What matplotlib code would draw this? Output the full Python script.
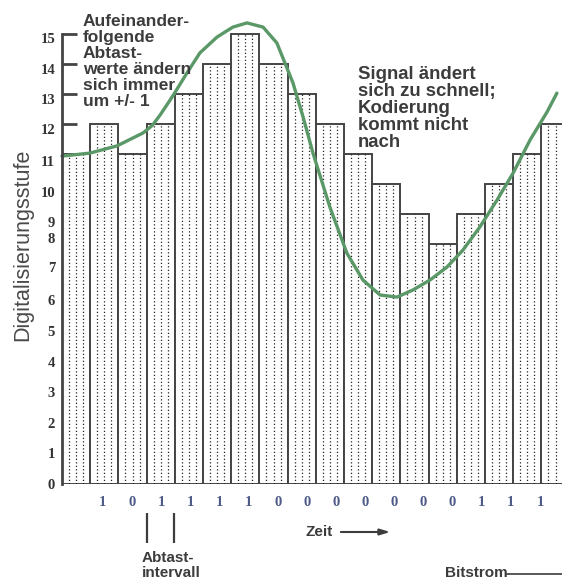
import numpy as np
import matplotlib
matplotlib.use("Agg")
import matplotlib.pyplot as plt

# quantisierte Abtastwerte (ein Balken pro Abtastintervall)
levels = [11, 12, 11, 12, 13, 14, 15, 14, 13, 12, 11, 10, 9, 8, 9, 10, 11, 12]

# analoges Signal (x in Abtastintervallen, y in Stufen)
curve_x = [0.0, 0.99, 1.95, 2.87, 3.2, 3.48, 3.94, 4.43, 4.89, 5.5, 6.06, 6.56, 7.13,
           7.62, 8.19, 8.55, 8.9, 9.5, 10.1, 10.67, 11.28, 11.88, 12.45, 13.05,
           13.65, 14.22, 14.82, 15.43, 16.0, 16.6, 17.2, 17.55]
curve_y = [10.93, 11.03, 11.27, 11.7, 11.95, 12.3, 12.95, 13.7, 14.37, 14.9, 15.23, 15.37,
           15.23, 14.7, 13.37, 12.23, 11.03, 9.23, 7.7, 6.8, 6.3, 6.23, 6.47, 6.8,
           7.23, 7.8, 8.57, 9.47, 10.37, 11.47, 12.4, 13.03]

# Bitstrom unter den Balken
bits = ["1", "0", "1", "1", "1", "1", "0", "0", "0", "0", "0", "0", "0", "1", "1", "1"]

# Beschriftung der Stufen (wie im Original leicht versetzt)
level_labels = [str(i) for i in range(16)]
level_label_pos = [0, 1.03, 2.03, 3.07, 4.07, 5.1, 6.13, 7.23, 8.2, 8.73,
                   9.73, 10.77, 11.83, 12.83, 13.83, 14.87]

dark = "#3c3c3c"
sans = "Liberation Sans"
serif = "Liberation Serif"

fig = plt.figure(figsize=(5.62, 5.81), dpi=100)
ax = fig.add_axes([62 / 562, 97 / 581, 500 / 562, 484 / 581])
ax.set_xlim(0, 500 / 28.2)
ax.set_ylim(0, 484 / 30)

x = np.arange(len(levels))
ax.bar(x, levels, width=1, align="edge", color="white",
       edgecolor="#444444", linewidth=1.4, zorder=1)
# gepunktete Fuellung
for i, v in zip(x, levels):
    ax.vlines(i + np.array([0.25, 0.5, 0.75]), 0, v, colors="#222222",
              linestyles=(0, (1.0, 1.8)), linewidth=0.9, zorder=2)

ax.plot(curve_x, curve_y, color="#5a9868", lw=2.4,
        solid_capstyle="round", solid_joinstyle="round", zorder=3, clip_on=False)

for s in ["top", "right", "bottom"]:
    ax.spines[s].set_visible(False)
ax.spines["left"].set_bounds(0, 15)
ax.spines["left"].set_color("#444444")
ax.spines["left"].set_linewidth(2)
ax.spines["left"].set_zorder(4)

ax.set_xticks([])
ax.set_yticks(level_label_pos)
ax.set_yticklabels(level_labels, fontfamily=serif, fontweight="bold",
                   fontsize=10.5, color="#333333")
ax.tick_params(axis="y", which="major", length=0, pad=5)
ax.set_yticks([12, 13, 14, 15], minor=True)
ax.tick_params(axis="y", which="minor", direction="in", length=11,
               width=2, color="#444444")

fig.text(23 / 562, 1 - 245 / 581, "Digitalisierungsstufe", rotation=90,
         ha="center", va="center", fontsize=15.5, color="#4a4a4a",
         fontfamily=sans)

fig.text(83 / 562, 1 - 14 / 581,
         "Aufeinander-\nfolgende\nAbtast-\nwerte ändern\nsich immer\num +/- 1",
         ha="left", va="top", fontsize=12.5, fontweight="bold", color=dark,
         fontfamily=sans, linespacing=1.08)
fig.text(358 / 562, 1 - 66 / 581,
         "Signal ändert\nsich zu schnell;\nKodierung\nkommt nicht\nnach",
         ha="left", va="top", fontsize=13.4, fontweight="bold", color=dark,
         fontfamily=sans, linespacing=1.0)

# Bitstrom
bit_x = np.linspace(1.45, 16.95, len(bits))
for bx, b in zip(bit_x, bits):
    ax.text(bx, -0.63, b, ha="center", va="center", fontsize=10.5,
            fontweight="bold", fontfamily=serif, color="#4d5987", clip_on=False)

# Abtastintervall
ax.vlines([3.0, 3.97], -1.97, -0.97, colors=dark, linewidth=1.6, clip_on=False)
ax.text(2.84, -2.25, "Abtast-\nintervall", ha="left", va="top", fontsize=11,
        fontweight="bold", color=dark, fontfamily=sans, linespacing=1.05,
        clip_on=False)

# Zeitpfeil
ax.text(8.62, -1.6, "Zeit", ha="left", va="center", fontsize=11,
        fontweight="bold", color=dark, fontfamily=sans)
ax.annotate("", xy=(11.74, -1.6), xytext=(9.79, -1.6),
            arrowprops=dict(arrowstyle="-|>,head_length=0.6,head_width=0.18",
                            color=dark, lw=1.5), annotation_clip=False)

ax.text(13.58, -2.97, "Bitstrom", ha="left", va="center", fontsize=11,
        fontweight="bold", color=dark, fontfamily=sans)
ax.plot([15.78, 17.73], [-3.0, -3.0], color=dark, lw=1.2, clip_on=False)

fig.savefig("out.png", dpi=100)
